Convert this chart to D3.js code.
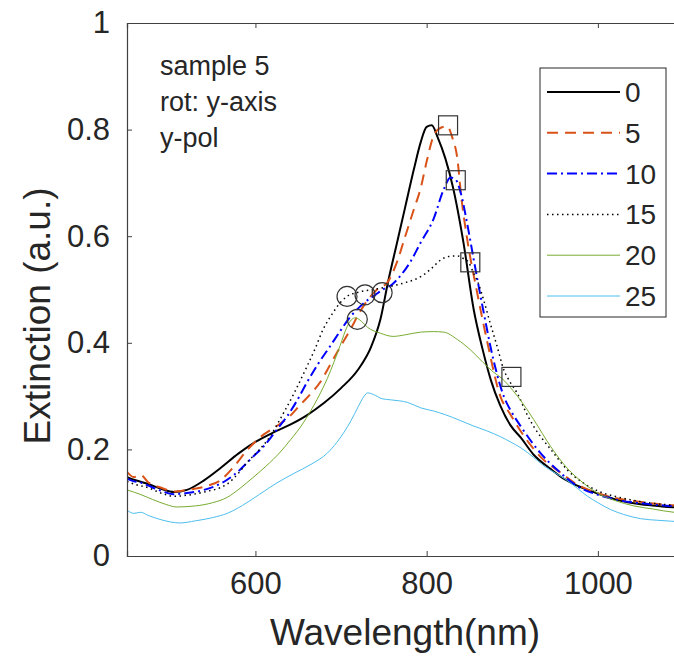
<!DOCTYPE html>
<html>
<head>
<meta charset="utf-8">
<script src="https://cdn.jsdelivr.net/npm/d3@7"></script>
<style>
  body { margin: 0; background: #fff; }
  text { font-family: "Liberation Sans", Arial, sans-serif; fill: #262626; }
</style>
</head>
<body>
<div id="chart"></div>
<script>
// ---- data ----
const seriesNames = ["0", "5", "10", "15", "20", "25"];

// [wavelength nm, extinction]
const s0 = [[450,.148],[460,.142],[475,.135],[490,.126],[505,.12],[520,.124],[540,.142],[560,.166],[580,.192],[600,.214],[620,.231],[640,.246],[660,.264],[680,.287],[700,.315],[720,.35],[735,.392],[746,.444],[755,.515],[765,.585],[775,.655],[785,.725],[793,.776],[800,.805],[806,.808],[813,.785],[822,.745],[831,.69],[843,.588],[855,.462],[865,.39],[875,.33],[886,.282],[898,.245],[910,.222],[925,.19],[945,.163],[960,.145],[976,.132],[1000,.117],[1023,.105],[1050,.097],[1075,.093],[1100,.09]];
const s5 = [[450,.158],[458,.148],[466,.152],[475,.138],[490,.128],[505,.121],[520,.124],[540,.13],[559,.142],[575,.168],[590,.198],[605,.222],[625,.244],[640,.262],[652,.283],[665,.305],[676,.327],[687,.358],[700,.395],[711,.425],[721,.455],[731,.48],[742,.5],[754,.513],[765,.55],[775,.6],[785,.65],[793,.69],[800,.74],[808,.788],[816,.803],[824,.806],[830,.785],[836,.744],[840,.68],[848,.588],[859,.494],[871,.4],[886,.3],[898,.265],[915,.222],[933,.186],[955,.158],[976,.134],[1000,.118],[1023,.108],[1048,.102],[1073,.097],[1100,.094]];
const s10 = [[450,.145],[458,.14],[466,.138],[475,.132],[490,.122],[504,.116],[520,.118],[540,.124],[567,.143],[582,.162],[597,.186],[612,.21],[625,.237],[637,.262],[648,.29],[660,.325],[673,.36],[687,.393],[699,.422],[711,.449],[721,.466],[731,.48],[740,.49],[749,.5],[760,.51],[769,.525],[781,.552],[793,.588],[808,.632],[820,.688],[828,.71],[834,.706],[840,.68],[848,.618],[855,.556],[866,.462],[878,.368],[890,.3],[900,.268],[910,.243],[933,.193],[955,.158],[976,.131],[1000,.115],[1023,.105],[1050,.099],[1083,.094],[1100,.092]];
const s15 = [[450,.14],[460,.134],[475,.128],[490,.118],[505,.112],[520,.114],[540,.12],[567,.135],[580,.155],[590,.175],[605,.2],[617,.224],[630,.26],[645,.305],[660,.355],[670,.39],[679,.425],[690,.455],[699,.475],[707,.487],[720,.495],[738,.5],[755,.505],[775,.513],[793,.524],[806,.54],[816,.555],[826,.562],[836,.563],[843,.558],[849,.551],[855,.53],[860,.513],[867,.478],[874,.438],[882,.395],[890,.35],[898,.325],[906,.305],[915,.273],[925,.243],[935,.22],[945,.2],[964,.162],[983,.137],[1000,.122],[1025,.11],[1050,.102],[1075,.097],[1100,.094]];
const s20 = [[450,.124],[465,.116],[480,.106],[495,.097],[508,.092],[530,.094],[550,.1],[567,.11],[582,.127],[597,.147],[612,.168],[629,.195],[641,.218],[656,.25],[668,.282],[676,.306],[684,.333],[692,.365],[699,.395],[707,.43],[712,.443],[717,.447],[724,.44],[731,.429],[746,.418],[761,.412],[775,.415],[793,.42],[808,.421],[820,.42],[836,.406],[851,.387],[866,.363],[878,.345],[888,.333],[901,.31],[912,.287],[925,.256],[945,.205],[964,.165],[983,.137],[1003,.115],[1020,.104],[1042,.094],[1065,.088],[1089,.082],[1100,.081]];
const s25 = [[450,.086],[458,.08],[466,.082],[475,.076],[490,.068],[512,.062],[530,.066],[550,.072],[567,.08],[585,.095],[605,.116],[625,.137],[645,.155],[665,.172],[684,.193],[695,.213],[703,.231],[712,.255],[720,.28],[727,.3],[731,.306],[738,.303],[748,.295],[758,.293],[778,.288],[793,.278],[808,.272],[822,.265],[838,.255],[853,.245],[870,.235],[886,.224],[898,.214],[910,.203],[925,.185],[937,.169],[950,.156],[964,.142],[976,.127],[988,.112],[1000,.1],[1015,.087],[1030,.078],[1050,.07],[1070,.067],[1100,.064]];
const seriesData = [s0, s5, s10, s15, s20, s25];

// feature markers
const circleMarks = [[707,.487],[728,.49],[748,.494],[719,.444]];
const squareMarks = [[825,.808],[834,.705],[851,.551],[899,.336]];

const xTicks = [600, 800, 1000];
const yTicks = [0, 0.2, 0.4, 0.6, 0.8, 1];

// ---- styles ----
const styles = [
  { color: "#000000", width: 2,   dash: null },
  { color: "#D95319", width: 2,   dash: "11,7" },
  { color: "#0000FF", width: 2,   dash: "10,4,2,4" },
  { color: "#000000", width: 1.5, dash: "1.5,3.5" },
  { color: "#77AC30", width: 1,   dash: null },
  { color: "#4DBEEE", width: 1,   dash: null }
];

const W = 674, H = 663;
const margin = { top: 23, left: 127, bottom: 107 };
const plotRight = 683.5;  // axes box runs past the right edge of the window
const width  = plotRight - margin.left;
const height = H - margin.top - margin.bottom;

const svg = d3.select("#chart").append("svg")
  .attr("width", W)
  .attr("height", H);

const g = svg.append("g")
  .attr("transform", `translate(${margin.left},${margin.top})`);

const x = d3.scaleLinear().domain([450, 1100]).range([0, width]);
const y = d3.scaleLinear().domain([0, 1]).range([height, 0]);

g.append("clipPath").attr("id", "clip")
  .append("rect").attr("width", width).attr("height", height);

// lines
const lineGen = d3.line()
  .x(d => x(d[0]))
  .y(d => y(d[1]))
  .curve(d3.curveMonotoneX);

const lines = g.append("g").attr("clip-path", "url(#clip)");
seriesData.forEach((d, i) => {
  lines.append("path")
    .attr("fill", "none")
    .attr("stroke", styles[i].color)
    .attr("stroke-width", styles[i].width)
    .attr("stroke-dasharray", styles[i].dash)
    .attr("d", lineGen(d));
});

// markers
g.append("g").selectAll("circle")
  .data(circleMarks)
  .join("circle")
    .attr("cx", d => x(d[0]))
    .attr("cy", d => y(d[1]))
    .attr("r", 10)
    .attr("fill", "none")
    .attr("stroke", "#333")
    .attr("stroke-width", 1.2);

const sq = 19;
g.append("g").selectAll("rect")
  .data(squareMarks)
  .join("rect")
    .attr("x", d => x(d[0]) - sq / 2)
    .attr("y", d => y(d[1]) - sq / 2)
    .attr("width", sq)
    .attr("height", sq)
    .attr("fill", "none")
    .attr("stroke", "#333")
    .attr("stroke-width", 1.2);

// axes (ticks point inward, box on top/right)
const axisColor = "#404040";
const xAxis = g.append("g")
  .attr("transform", `translate(0,${height})`)
  .call(d3.axisBottom(x).tickValues(xTicks).tickSize(-5).tickPadding(16).tickFormat(d3.format("d")));
const xTop = g.append("g")
  .call(d3.axisTop(x).tickValues(xTicks).tickSize(-5).tickFormat(""));
const yAxis = g.append("g")
  .call(d3.axisLeft(y).tickValues(yTicks).tickSize(-5).tickPadding(17).tickFormat(d => d3.format("~g")(d)));
const yRight = g.append("g")
  .attr("transform", `translate(${width},0)`)
  .call(d3.axisRight(y).tickValues(yTicks).tickSize(-5).tickFormat(""));

[xAxis, xTop, yAxis, yRight].forEach(a => {
  a.select(".domain").attr("stroke", axisColor).attr("stroke-width", 1.2);
  a.selectAll(".tick line").attr("stroke", axisColor);
  a.selectAll("text")
    .style("font-family", "'Liberation Sans', Arial, sans-serif")
    .style("font-size", "31px")
    .attr("fill", "#262626");
});
xAxis.selectAll("text").attr("dy", "0.71em");

// axis labels
svg.append("text")
  .attr("x", 405).attr("y", 645)
  .attr("text-anchor", "middle")
  .style("font-size", "37px")
  .text("Wavelength(nm)");

svg.append("text")
  .attr("transform", "translate(50,316) rotate(-90)")
  .attr("text-anchor", "middle")
  .style("font-size", "37px")
  .text("Extinction (a.u.)");

// annotation
const notes = ["sample 5", "rot: y-axis", "y-pol"];
svg.append("g").selectAll("text")
  .data(notes)
  .join("text")
    .attr("x", 160)
    .attr("y", (d, i) => 75 + i * 36)
    .style("font-size", "27px")
    .text(d => d);

// legend
const legend = svg.append("g");
legend.append("rect")
  .attr("x", 540).attr("y", 68)
  .attr("width", 126).attr("height", 249)
  .attr("fill", "#fff")
  .attr("stroke", "#262626")
  .attr("stroke-width", 1);

const items = legend.selectAll("g.item")
  .data(seriesNames)
  .join("g")
    .attr("class", "item")
    .attr("transform", (d, i) => `translate(0,${92 + i * 40.8})`);

items.append("line")
  .attr("x1", 547).attr("x2", 620)
  .attr("y1", 0).attr("y2", 0)
  .attr("stroke", (d, i) => styles[i].color)
  .attr("stroke-width", (d, i) => styles[i].width)
  .attr("stroke-dasharray", (d, i) => styles[i].dash);

items.append("text")
  .attr("x", 625)
  .attr("y", 10)
  .style("font-size", "28px")
  .text(d => d);
</script>
</body>
</html>
